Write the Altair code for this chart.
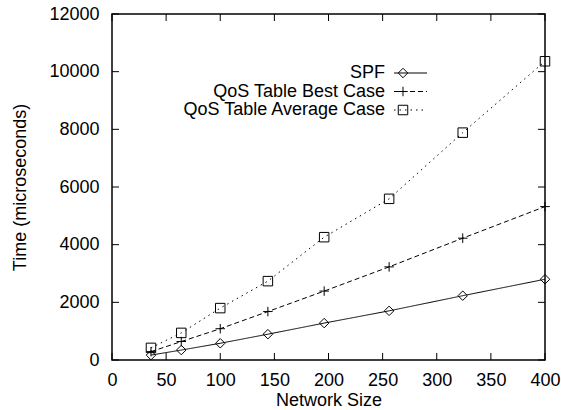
import altair as alt
import pandas as pd

# ---- data ----
network_size = [36, 64, 100, 144, 196, 256, 324, 400]
spf = [170, 345, 580, 895, 1280, 1705, 2230, 2800]
qos_best = [290, 640, 1085, 1680, 2390, 3230, 4225, 5320]
qos_avg = [420, 940, 1800, 2735, 4260, 5590, 7885, 10360]
series_names = ["SPF", "QoS Table Best Case", "QoS Table Average Case"]
x_ticks = [0, 50, 100, 150, 200, 250, 300, 350, 400]
y_ticks = [0, 2000, 4000, 6000, 8000, 10000, 12000]

rows = []
for name, vals in zip(series_names, [spf, qos_best, qos_avg]):
    for xv, yv in zip(network_size, vals):
        rows.append({"size": xv, "time": yv, "series": name})
df = pd.DataFrame(rows)

FONT = "Liberation Sans"
W, H = 433, 346
TICK = 7

dashes = [[1, 0], [5, 3], [1.5, 4]]
shapes = ["diamond", "M-1,0H1M0,-1V1", "square"]

xscale = alt.Scale(domain=[0, 400], nice=False, zero=False)
yscale = alt.Scale(domain=[0, 12000], nice=False)

x_axis = alt.Axis(
    values=x_ticks, format="d", title="Network Size", grid=False, ticks=False, tickSize=0,
    domain=False, labelPadding=11, labelFlush=False, labelOverlap=False,
    titleX=W / 2, titleY=45, titleBaseline="alphabetic", titleAlign="center",
)
y_axis = alt.Axis(
    values=y_ticks, format="d", title="Time (microseconds)", grid=False, ticks=False, tickSize=0,
    domain=False, labelPadding=13, labelFlush=False, labelOverlap=False,
    titleX=-92, titleY=H / 2, titleAngle=270, titleBaseline="middle", titleAlign="center",
)

X = alt.X("size:Q", scale=xscale, axis=x_axis)
Y = alt.Y("time:Q", scale=yscale, axis=y_axis)

base = alt.Chart(df)
lines = base.mark_line(color="black", strokeWidth=1).encode(
    x=X, y=Y,
    strokeDash=alt.StrokeDash("series:N",
                              scale=alt.Scale(domain=series_names, range=dashes),
                              legend=None),
)
points = base.mark_point(filled=False, color="black", strokeWidth=1, size=90, opacity=1).encode(
    x=X, y=Y,
    shape=alt.Shape("series:N",
                    scale=alt.Scale(domain=series_names, range=shapes),
                    legend=None),
)

# inward ticks (gnuplot style, mirrored)
xt = pd.DataFrame({"size": x_ticks})
yt = pd.DataFrame({"time": y_ticks})
xt_bottom = alt.Chart(xt).mark_rule(color="black", strokeWidth=1).encode(
    x=X, y=alt.value(H), y2=alt.value(H - TICK))
xt_top = alt.Chart(xt).mark_rule(color="black", strokeWidth=1).encode(
    x=X, y=alt.value(0), y2=alt.value(TICK))
yt_left = alt.Chart(yt).mark_rule(color="black", strokeWidth=1).encode(
    y=Y, x=alt.value(0), x2=alt.value(TICK))
yt_right = alt.Chart(yt).mark_rule(color="black", strokeWidth=1).encode(
    y=Y, x=alt.value(W), x2=alt.value(W - TICK))

# manual key (label left, sample right)
key_layers = []
row_y = [59, 77.5, 96]
for i, name in enumerate(series_names):
    kd = pd.DataFrame({"series": [name]})
    key_layers.append(
        alt.Chart(kd).mark_text(align="right", baseline="middle", font=FONT,
                                fontSize=18, color="black").encode(
            text="series:N", x=alt.value(273), y=alt.value(row_y[i])))
    key_layers.append(
        alt.Chart(kd).mark_rule(color="black", strokeWidth=1, strokeDash=dashes[i]).encode(
            x=alt.value(282), x2=alt.value(315), y=alt.value(row_y[i])))
    key_layers.append(
        alt.Chart(kd).mark_point(filled=False, color="black", strokeWidth=1, size=90,
                                 shape=shapes[i], opacity=1).encode(
            x=alt.value(291), y=alt.value(row_y[i])))

chart = alt.layer(lines, points, xt_bottom, xt_top, yt_left, yt_right, *key_layers).properties(
    width=W, height=H, autosize="none",
    padding={"left": 112, "top": 14, "right": 16, "bottom": 50},
    background="white",
).configure_view(
    stroke="black", strokeWidth=1.5
).configure_axis(
    labelFont=FONT, titleFont=FONT, labelFontSize=18, titleFontSize=18,
    labelColor="black", titleColor="black", titleFontWeight="normal",
)

chart.save("out.html", embed_options={"renderer": "svg", "actions": False})
